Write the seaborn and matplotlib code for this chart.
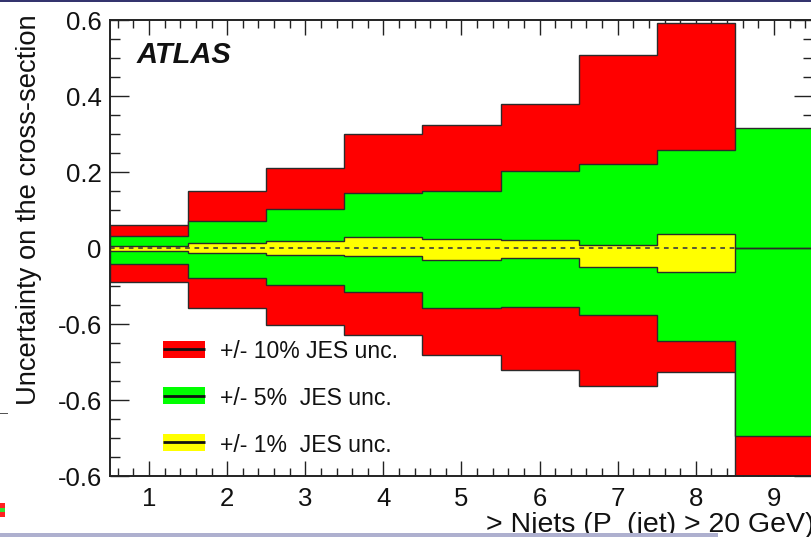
import numpy as np
import matplotlib
matplotlib.use("Agg")
import matplotlib.pyplot as plt
import seaborn as sns
from matplotlib.patches import Rectangle
from matplotlib.ticker import FixedLocator, FixedFormatter, MultipleLocator

# Jet multiplicity bins and relative cross-section uncertainty bands
n_jets = [1, 2, 3, 4, 5, 6, 7, 8, 9]
jes10_up = [0.060, 0.150, 0.210, 0.299, 0.324, 0.380, 0.508, 0.593, 0.310]
jes10_dn = [-0.089, -0.157, -0.203, -0.229, -0.282, -0.320, -0.363, -0.326, -0.700]
jes5_up = [0.032, 0.071, 0.102, 0.145, 0.149, 0.202, 0.220, 0.258, 0.315]
jes5_dn = [-0.041, -0.080, -0.098, -0.116, -0.157, -0.154, -0.175, -0.245, -0.495]
jes1_up = [0.005, 0.014, 0.018, 0.030, 0.023, 0.020, 0.008, 0.038, 0.0]
jes1_dn = [-0.007, -0.012, -0.018, -0.022, -0.032, -0.025, -0.050, -0.062, 0.0]

y_ticks = [0.6, 0.4, 0.2, 0.0, -0.2, -0.4, -0.6]
y_tick_labels = ["0.6", "0.4", "0.2", "0", "-0.6", "-0.6", "-0.6"]
x_tick_labels = ["1", "2", "3", "4", "5", "6", "7", "8", "9"]
band_labels = ["+/- 10% JES unc.", "+/- 5%  JES unc.", "+/- 1%  JES unc."]
band_colors = ["#ff0000", "#00ff00", "#ffff00"]

sns.set_style("ticks")
plt.rcParams["font.family"] = ["Liberation Sans", "DejaVu Sans"]

W, H = 811, 537
fig = plt.figure(figsize=(W / 100, H / 100), dpi=100)
ax = fig.add_axes([110 / W, (H - 476) / H, (813 - 110) / W, (476 - 20) / H])

edges = np.arange(0.5, len(n_jets) + 1.0, 1.0)
edge_col = "#2b2b2b"
for up, dn, col in [(jes10_up, jes10_dn, band_colors[0]),
                    (jes5_up, jes5_dn, band_colors[1]),
                    (jes1_up, jes1_dn, band_colors[2])]:
    ax.stairs(up, edges, baseline=dn, fill=True, facecolor=col,
              edgecolor=edge_col, linewidth=1.0)

# nominal reference line at zero
sns.lineplot(x=[0.5, 8.5], y=[0.0, 0.0], ax=ax, color="#4a4a3a",
             linewidth=1.3, linestyle=(0, (2.6, 2.6)))

ax.set_xlim(0.5, 9.5)
ax.set_ylim(-0.6, 0.6)

ax.xaxis.set_major_locator(FixedLocator(n_jets))
ax.xaxis.set_major_formatter(FixedFormatter(x_tick_labels))
ax.xaxis.set_minor_locator(MultipleLocator(0.2))
ax.yaxis.set_major_locator(FixedLocator(y_ticks))
ax.yaxis.set_major_formatter(FixedFormatter(y_tick_labels))
ax.yaxis.set_minor_locator(MultipleLocator(0.05))

ax.tick_params(axis="both", which="both", direction="in", top=True, right=True,
               colors="#222222", labelcolor="#111111")
ax.tick_params(axis="y", which="major", length=14, width=1.0, labelsize=18.5, pad=6)
ax.tick_params(axis="y", which="minor", length=7, width=1.0)
ax.tick_params(axis="x", which="major", length=11, width=1.0, labelsize=18.5, pad=8)
ax.tick_params(axis="x", which="minor", length=6, width=1.0)
for sp in ax.spines.values():
    sp.set_linewidth(1.4)
    sp.set_color("#222222")

if ax.get_legend() is not None:
    ax.get_legend().remove()

# ATLAS label
ax.text((137 - 110) / 703, (476 - 55) / 456, "ATLAS", transform=ax.transAxes,
        fontsize=21, fontweight="bold", fontstyle="italic", ha="left",
        va="center", color="#111111")

# legend entries: colored box with a black line through it
leg_rows = [349, 395.5, 442]
for lab, col, yc in zip(band_labels, band_colors, leg_rows):
    x0 = (163 - 110) / 703
    x1 = (205 - 110) / 703
    yc_ax = (476 - yc) / 456
    hh = 8.5 / 456
    ax.add_patch(Rectangle((x0, yc_ax - hh), x1 - x0, 2 * hh, transform=ax.transAxes,
                           facecolor=col, edgecolor="none", zorder=5))
    ax.plot([x0, x1], [yc_ax, yc_ax], transform=ax.transAxes, color="#111111",
            linewidth=2.0, zorder=6, solid_capstyle="butt")
    ax.text((220 - 110) / 703, (476 - yc - 3) / 456, lab, transform=ax.transAxes,
            fontsize=16.6, ha="left", va="center", color="#111111", zorder=6)

fig.text(29 / W, 1 - 210 / H, "Uncertainty on the cross-section", rotation=90,
         fontsize=19.7, ha="center", va="center", color="#111111")
fig.text(814 / W, 1 - 512 / H, "> Njets (P  (jet) > 20 GeV)", fontsize=20.5,
         ha="right", va="top", color="#111111")

# page frame: top border and bottom strip
fig.add_artist(Rectangle((0, 1 - 2 / H), 1, 2 / H, transform=fig.transFigure,
                         facecolor="#34346e", edgecolor="none", zorder=20))
fig.add_artist(Rectangle((0, 0), 718 / W, 4 / H, transform=fig.transFigure,
                         facecolor="#aeb0cf", edgecolor="none", zorder=20))
# fragments of neighbouring slide content at the left edge
fig.add_artist(Rectangle((0, 1 - 517 / H), 5 / W, 14 / H, transform=fig.transFigure,
                         facecolor="#ff2020", edgecolor="none", zorder=20))
fig.add_artist(Rectangle((0, 1 - 512 / H), 5 / W, 4 / H, transform=fig.transFigure,
                         facecolor="#30e030", edgecolor="none", zorder=21))
fig.add_artist(Rectangle((0, 1 - 414 / H), 8 / W, 1.5 / H, transform=fig.transFigure,
                         facecolor="#555555", edgecolor="none", zorder=20))

fig.savefig("out.png", dpi=100)
